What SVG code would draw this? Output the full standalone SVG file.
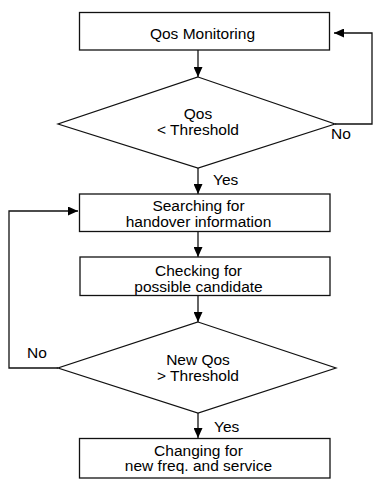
<svg xmlns="http://www.w3.org/2000/svg" width="374" height="480" viewBox="0 0 374 480">
  <style>
    .box { fill: #fff; stroke: #111; stroke-width: 1.3; }
    .dia { fill: #fff; stroke: #111; stroke-width: 1.2; }
    .edge { fill: none; stroke: #111; stroke-width: 1.3; }
    text { font-family: "Liberation Sans", Arial, sans-serif; font-size: 15.5px; fill: #000; }
    .c { text-anchor: middle; }
  </style>
  <defs>
    <marker id="arrow" markerWidth="11" markerHeight="9" refX="10" refY="4.5" orient="auto" markerUnits="userSpaceOnUse">
      <path d="M0,0 L10,4.5 L0,9 Z" fill="#000"/>
    </marker>
  </defs>
  <rect width="374" height="480" fill="#fff"/>

  <g id="connectors">
    <line class="edge" x1="198" y1="50" x2="198" y2="77" marker-end="url(#arrow)"/>
    <polyline class="edge" points="335,124 372,124 372,33 334,33" marker-end="url(#arrow)"/>
    <line class="edge" x1="198" y1="168" x2="198" y2="194" marker-end="url(#arrow)"/>
    <line class="edge" x1="198" y1="232" x2="198" y2="257" marker-end="url(#arrow)"/>
    <line class="edge" x1="198" y1="296" x2="198" y2="322" marker-end="url(#arrow)"/>
    <polyline class="edge" points="58,368 9,368 9,211 78,211" marker-end="url(#arrow)"/>
    <line class="edge" x1="198" y1="413" x2="198" y2="438" marker-end="url(#arrow)"/>
    <text x="331" y="138.5">No</text>
    <text x="213" y="185">Yes</text>
    <text x="27" y="358">No</text>
    <text x="214" y="431.5">Yes</text>
  </g>

  <g id="qos-monitoring">
    <rect class="box" x="79.5" y="12.5" width="250" height="37.5"/>
    <text class="c" x="202.5" y="38.5">Qos Monitoring</text>
  </g>

  <g id="qos-check">
    <polygon class="dia" points="198,77 335,124 198,168 58,124"/>
    <text class="c" x="198" y="118.5">Qos</text>
    <text class="c" x="198" y="135">&lt; Threshold</text>
  </g>

  <g id="searching">
    <rect class="box" x="79.5" y="194" width="250.5" height="37.5"/>
    <text class="c" x="198.5" y="211">Searching for</text>
    <text class="c" x="198.5" y="226.5">handover information</text>
  </g>

  <g id="checking">
    <rect class="box" x="80" y="257" width="250" height="38.5"/>
    <text class="c" x="198.5" y="276">Checking for</text>
    <text class="c" x="198.5" y="291.5">possible candidate</text>
  </g>

  <g id="new-qos-check">
    <polygon class="dia" points="198,322 336,368 198,413 58,368"/>
    <text class="c" x="198" y="365">New Qos</text>
    <text class="c" x="198" y="381">&gt; Threshold</text>
  </g>

  <g id="changing">
    <rect class="box" x="79.5" y="438.5" width="250.5" height="39.5"/>
    <text class="c" x="198.5" y="455.5">Changing for</text>
    <text class="c" x="198.5" y="471">new freq. and service</text>
  </g>
</svg>
